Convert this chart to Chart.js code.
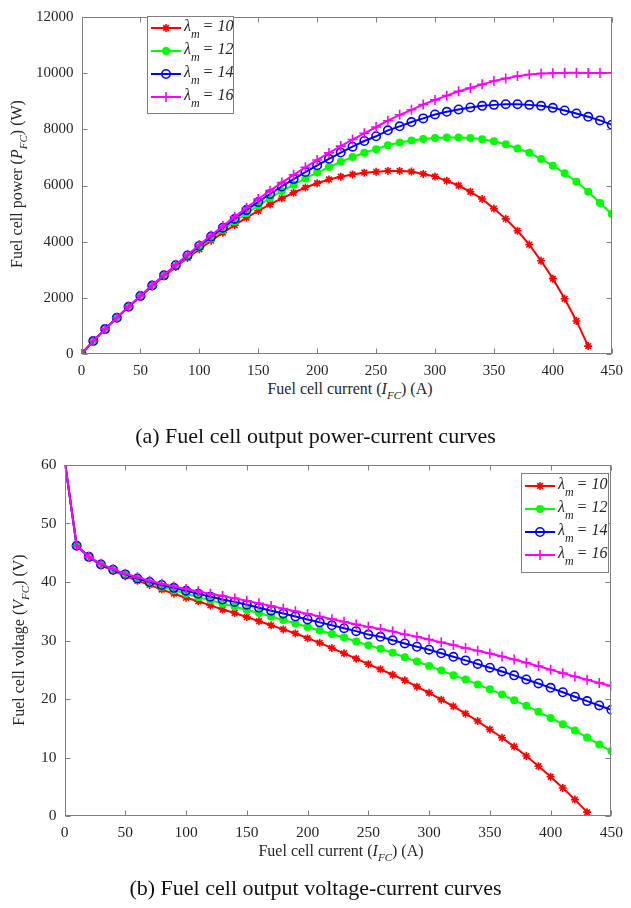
<!DOCTYPE html>
<html><head><meta charset="utf-8">
<script src="https://cdn.jsdelivr.net/npm/chart.js@4.4.0/dist/chart.umd.min.js"></script>
<style>
html,body{margin:0;padding:0;background:#fff;}
#wrap{position:relative;width:631px;height:908px;overflow:hidden;font-family:'Liberation Serif','Times New Roman',serif;color:#262626;}
.cv{position:absolute;left:0;}
.lbl{position:absolute;white-space:nowrap;font-size:16px;line-height:1;transform:translate(-50%,-50%);}
.rot{transform:translate(-50%,-50%) rotate(-90deg);}
.cap{position:absolute;white-space:nowrap;font-size:22px;line-height:1;left:0;width:631px;text-align:center;color:#111;}
.lbl sub{font-size:11px;vertical-align:-5px;font-style:italic;}
.lbl i{font-style:italic;}
</style></head><body>
<div id="wrap">
<div class="cv" style="top:0"><canvas id="c1" width="631" height="380"></canvas></div>
<div class="cv" style="top:440px"><canvas id="c2" width="631" height="468"></canvas></div>
<div class="lbl" style="left:350px;top:391px">Fuel cell current (<i>I</i><sub>FC</sub>) (A)</div>
<div class="lbl rot" style="left:19px;top:184px">Fuel cell power (<i>P</i><sub>FC</sub>) (W)</div>
<div class="cap" style="top:425px">(a) Fuel cell output power-current curves</div>
<div class="lbl" style="left:341px;top:853px">Fuel cell current (<i>I</i><sub>FC</sub>) (A)</div>
<div class="lbl rot" style="left:21px;top:640px">Fuel cell voltage (<i>V</i><sub>FC</sub>) (V)</div>
<div class="cap" style="top:877px">(b) Fuel cell output voltage-current curves</div>
</div>
<script>
// ---- data ----
const CURRENT = [0,10,20,30,40,50,60,70,80,90,100,110,120,130,140,150,160,170,180,190,200,210,220,230,240,250,260,270,280,290,300,310,320,330,340,350,360,370,380,390,400,410,420,430,440,450];
const LAMBDAS = ['10','12','14','16'];

const POWER_L10 = [0,462,886,1287,1676,2050,2412,2765,3096,3420,3730,4037,4320,4589,4858,5100,5328,5542,5742,5928,6080,6216,6314,6394,6456,6488,6519,6519,6495,6413,6318,6165,6000,5777,5518,5177,4812,4389,3895,3318,2683,1965,1177,282];
const POWER_L12 = [0,462,886,1290,1680,2060,2430,2786,3136,3474,3800,4114,4428,4719,5012,5280,5552,5797,6030,6251,6460,6657,6842,7015,7164,7295,7436,7530,7600,7659,7695,7706,7706,7695,7648,7577,7471,7318,7165,6942,6706,6436,6130,5777,5377,4989];
const POWER_L14 = [0,462,886,1290,1684,2065,2436,2800,3160,3510,3850,4180,4500,4810,5124,5415,5696,5967,6228,6479,6720,6951,7172,7383,7584,7753,7965,8107,8259,8389,8530,8624,8706,8777,8836,8871,8895,8895,8871,8836,8765,8671,8565,8447,8318,8166];
const POWER_L16 = [0,462,886,1293,1688,2070,2448,2814,3176,3533,3880,4224,4560,4888,5208,5520,5816,6103,6381,6650,6910,7161,7403,7636,7860,8083,8306,8518,8695,8883,9048,9200,9354,9471,9601,9719,9813,9895,9954,9990,10000,10012,10013,10010,10010,10008];

const VOLT_L10 = [61,46.2,44.3,42.9,41.9,41.0,40.2,39.5,38.7,38.0,37.3,36.7,36.0,35.3,34.7,34.0,33.3,32.6,31.9,31.2,30.4,29.6,28.7,27.8,26.9,25.95,25.07,24.14,23.2,22.11,21.06,19.89,18.75,17.5,16.23,14.79,13.37,11.86,10.25,8.51,6.71,4.79,2.8,0.66];
const VOLT_L12 = [61,46.2,44.3,43.0,42.0,41.2,40.5,39.8,39.2,38.6,38.0,37.4,36.9,36.3,35.8,35.2,34.7,34.1,33.5,32.9,32.3,31.7,31.1,30.5,29.85,29.18,28.6,27.89,27.14,26.41,25.65,24.86,24.08,23.32,22.49,21.65,20.75,19.78,18.86,17.8,16.77,15.7,14.6,13.43,12.22,11.09];
const VOLT_L14 = [61,46.2,44.3,43.0,42.1,41.3,40.6,40.0,39.5,39.0,38.5,38.0,37.5,37.0,36.6,36.1,35.6,35.1,34.6,34.1,33.6,33.1,32.6,32.1,31.6,31.01,30.63,30.03,29.5,28.93,28.43,27.82,27.21,26.6,25.99,25.35,24.71,24.04,23.34,22.66,21.91,21.15,20.39,19.64,18.9,18.15];
const VOLT_L16 = [61,46.2,44.3,43.1,42.2,41.4,40.8,40.2,39.7,39.25,38.8,38.4,38.0,37.6,37.2,36.8,36.35,35.9,35.45,35.0,34.55,34.1,33.65,33.2,32.75,32.33,31.95,31.55,31.05,30.63,30.16,29.68,29.23,28.7,28.24,27.77,27.26,26.74,26.19,25.62,25.0,24.42,23.84,23.28,22.75,22.24];

const X_TICKS = [0,50,100,150,200,250,300,350,400,450];
const P_TICKS = [0,2000,4000,6000,8000,10000,12000];
const V_TICKS = [0,10,20,30,40,50,60];

// ---- styles ----
const STYLES = [
  {color:'#ff0000', style:'star',   r:4,   fill:false},
  {color:'#00ff00', style:'circle', r:3.2, fill:true},
  {color:'#0000ff', style:'circle', r:4.2, fill:false},
  {color:'#ff00ff', style:'cross',  r:5,   fill:false}
];
const FONT = "'Liberation Serif','Times New Roman',serif";
const TXT = '#262626';
const AX = '#7f7f7f';

function mk(i, ys){
  const s = STYLES[i];
  return {
    label: 'λm = ' + LAMBDAS[i],
    data: ys.map((v,k)=>({x:CURRENT[k], y:v})),
    borderColor: s.color, backgroundColor: s.color,
    pointBackgroundColor: s.fill ? s.color : 'rgba(0,0,0,0)',
    pointBorderColor: s.color, pointStyle: s.style,
    pointRadius: s.r, pointBorderWidth: 1.6, borderWidth: 2,
    tension: 0, order: 4 - i
  };
}

function drawMarker(ctx, s, x, y){
  ctx.save();
  ctx.strokeStyle = s.color; ctx.fillStyle = s.color; ctx.lineWidth = 1.6;
  const r = s.r;
  ctx.beginPath();
  if (s.style === 'circle') {
    ctx.arc(x, y, r, 0, Math.PI*2);
    if (s.fill) ctx.fill();
    ctx.stroke();
  } else if (s.style === 'cross') {
    ctx.moveTo(x-r,y); ctx.lineTo(x+r,y); ctx.moveTo(x,y-r); ctx.lineTo(x,y+r); ctx.stroke();
  } else {
    const d = r*0.7071;
    ctx.moveTo(x-r,y); ctx.lineTo(x+r,y); ctx.moveTo(x,y-r); ctx.lineTo(x,y+r);
    ctx.moveTo(x-d,y-d); ctx.lineTo(x+d,y+d); ctx.moveTo(x-d,y+d); ctx.lineTo(x+d,y-d); ctx.stroke();
  }
  ctx.restore();
}

const framePlugin = {
  id: 'frame',
  afterDraw(chart, args, opts){
    const {ctx, chartArea:a, scales:{x, y}} = chart;
    ctx.save();
    ctx.strokeStyle = AX; ctx.lineWidth = 1;
    const L = Math.round(a.left)+0.5, R = Math.round(a.right)-0.5, T = Math.round(a.top)+0.5, B = Math.round(a.bottom)-0.5;
    ctx.strokeRect(L, T, R-L, B-T);
    const TL = 5;
    ctx.beginPath();
    x.ticks.forEach(t=>{
      const px = Math.round(x.getPixelForValue(t.value))+0.5;
      ctx.moveTo(px,B); ctx.lineTo(px,B-TL); ctx.moveTo(px,T); ctx.lineTo(px,T+TL);
    });
    y.ticks.forEach(t=>{
      const py = Math.round(y.getPixelForValue(t.value))+0.5;
      ctx.moveTo(L,py); ctx.lineTo(L+TL,py); ctx.moveTo(R,py); ctx.lineTo(R-TL,py);
    });
    ctx.stroke();
    // legend
    const lg = opts.legend;
    if (lg) {
      ctx.fillStyle = '#fff';
      ctx.fillRect(lg.left, lg.top, lg.width, lg.height);
      ctx.strokeStyle = AX;
      ctx.strokeRect(lg.left+0.5, lg.top+0.5, lg.width, lg.height);
      chart.data.datasets.forEach((ds, i)=>{
        const s = STYLES[i];
        const cy = lg.top + lg.first + i*lg.row;
        ctx.strokeStyle = s.color; ctx.lineWidth = 2;
        ctx.beginPath(); ctx.moveTo(lg.left+4, cy); ctx.lineTo(lg.left+34, cy); ctx.stroke();
        drawMarker(ctx, s, lg.left+19, cy);
        ctx.fillStyle = TXT;
        ctx.textBaseline = 'middle'; ctx.textAlign = 'left';
        let tx = lg.left + 37;
        ctx.font = "italic 16px " + FONT;
        ctx.fillText('λ', tx, cy-1);
        tx += ctx.measureText('λ').width;
        ctx.font = "italic 12px " + FONT;
        ctx.fillText('m', tx, cy+7);
        tx += ctx.measureText('m').width - 1;
        ctx.font = "italic 16px " + FONT;
        ctx.fillText(' = ' + LAMBDAS[i], tx, cy-1);
      });
    }
    ctx.restore();
  }
};

function makeChart(id, sets, yTicks, yMax, yw, xh, pad, fs, legend){
  return new Chart(document.getElementById(id), {
    type: 'line',
    data: { datasets: sets },
    options: {
      responsive: false, animation: false, events: [],
      layout: { padding: pad },
      plugins: { legend: {display:false}, tooltip: {enabled:false}, frame: {legend} },
      scales: {
        x: {
          type: 'linear', min: 0, max: 450,
          afterFit: s => { s.height = xh; },
          afterBuildTicks: s => { s.ticks = X_TICKS.map(v=>({value:v})); },
          grid: {display:false, drawTicks:false}, border: {display:false},
          ticks: {color: TXT, font: {family: FONT, size: fs}, padding: 8, maxRotation: 0, autoSkip: false,
                  callback: v => String(v)}
        },
        y: {
          type: 'linear', min: 0, max: yMax,
          afterFit: s => { s.width = yw; },
          afterBuildTicks: s => { s.ticks = yTicks.map(v=>({value:v})); },
          grid: {display:false, drawTicks:false}, border: {display:false},
          ticks: {color: TXT, font: {family: FONT, size: fs}, padding: 8, autoSkip: false,
                  callback: v => String(v)}
        }
      }
    },
    plugins: [framePlugin]
  });
}

makeChart('c1',
  [mk(0,POWER_L10), mk(1,POWER_L12), mk(2,POWER_L14), mk(3,POWER_L16)],
  P_TICKS, 12000, 81.5, 26, {top:14, right:13.3, left:0, bottom:0}, 15,
  {left:147, top:16, width:86, height:97, first:12, row:23});

makeChart('c2',
  [mk(0,VOLT_L10), mk(1,VOLT_L12), mk(2,VOLT_L14), mk(3,VOLT_L16)],
  V_TICKS, 60, 64.5, 92, {top:25, right:14, left:0, bottom:0}, 15.5,
  {left:521, top:33, width:87, height:99, first:13, row:23});
</script>
</body></html>
